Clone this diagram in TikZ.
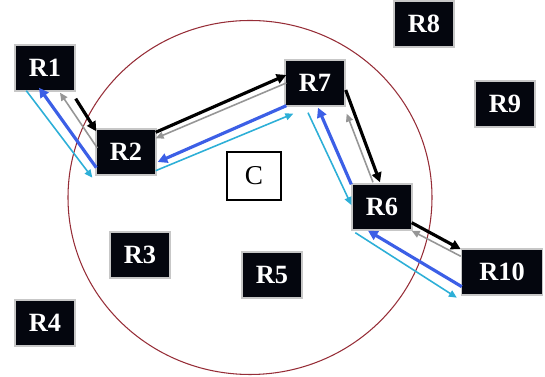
\documentclass[tikz,border=0pt]{standalone}
\usepackage{fontspec}
\setmainfont{Liberation Serif}
\usetikzlibrary{arrows.meta}
\definecolor{routerfill}{RGB}{4,6,14}
\definecolor{ringred}{RGB}{150,45,55}
\definecolor{pathblue}{RGB}{60,95,230}
\definecolor{pathcyan}{RGB}{45,175,215}
\definecolor{pathgray}{RGB}{150,150,150}

\begin{document}
\begin{tikzpicture}[x=0.02cm,y=-0.02cm,
    router/.style={draw=black!22,line width=0.8pt,fill=routerfill,text=white,
        font=\fontsize{15}{18}\selectfont\bfseries,minimum width=1.2cm,minimum height=0.92cm,inner sep=0pt},
    center/.style={draw,line width=1.5pt,fill=white,font=\fontsize{15.5}{18}\selectfont,
        minimum width=1.08cm,minimum height=0.96cm,inner sep=0pt},
    fwd/.style={line width=1.8pt,-{Triangle[length=5.5pt,width=5.5pt]}},
    bwd/.style={line width=0.9pt,-{Triangle[length=4.5pt,width=4pt]}}
]
    \useasboundingbox (0,0) rectangle (545,377);

    % the ring
    \draw[ringred,line width=0.6pt] (250,197.5) ellipse [x radius=182, y radius=177];

    \node[router] (R1) at (45,68) {R1};
    \node[router] (R2) at (126,152) {R2};
    \node[router] (R3) at (140,255) {R3};
    \node[router] (R4) at (45,323) {R4};
    \node[router] (R5) at (272,275) {R5};
    \node[router] (R6) at (382,207) {R6};
    \node[router] (R7) at (315,83) {R7};
    \node[router] (R8) at (424,24) {R8};
    \node[router] (R9) at (505,104) {R9};
    \node[router,minimum width=1.62cm] (R10) at (502,272) {R10};
    \node[center] (C) at (254,176) {C};

    % R1 -- R2
    \draw[fwd,black] ([shift={(0,7)}]R1.south east) -- ([shift={(1,3)}]R2.north west);
    \draw[bwd,pathgray] ([shift={(2,-4)}]R2.west) -- ([shift={(15,1)}]R1.south);
    \draw[fwd,pathblue] ([shift={(1,-8)}]R2.south west) -- ([shift={(-6,-4)}]R1.south);
    \draw[bwd,pathcyan] ([shift={(12,-1)}]R1.south west) -- ([shift={(-3,2)}]R2.south west);

    % R2 -- R7
    \draw[fwd,black] ([shift={(-1,4)}]R2.north east) -- ([shift={(2,-8)}]R7.west);
    \draw[bwd,pathgray] ([shift={(2,0)}]R7.west) -- ([shift={(-1,10)}]R2.north east);
    \draw[fwd,pathblue] ([shift={(2,-1)}]R7.south west) -- ([shift={(1,10)}]R2.east);
    \draw[bwd,pathcyan] ([shift={(-1,-5)}]R2.south east) -- ([shift={(9,7)}]R7.south west);

    % R7 -- R6
    \draw[fwd,black] ([shift={(0,7)}]R7.east) -- ([shift={(-2,-1)}]R6.north);
    \draw[bwd,pathgray] ([shift={(-9,-1)}]R6.north) -- ([shift={(1,7)}]R7.south east);
    \draw[fwd,pathblue] ([shift={(0,1)}]R6.north west) -- ([shift={(3,1)}]R7.south);
    \draw[bwd,pathcyan] ([shift={(-7,6)}]R7.south) -- ([shift={(0,-2)}]R6.west);

    % R6 -- R10
    \draw[fwd,black] ([shift={(-1,-8)}]R6.south east) -- ([shift={(0,1)}]R10.north west);
    \draw[bwd,pathgray] ([shift={(0,8)}]R10.north west) -- ([shift={(-1,0)}]R6.south east);
    \draw[fwd,pathblue] ([shift={(1,-9)}]R10.south west) -- ([shift={(-14,0)}]R6.south);
    \draw[bwd,pathcyan] ([shift={(4,2)}]R6.south west) -- ([shift={(-4,2)}]R10.south west);
\end{tikzpicture}
\end{document}
